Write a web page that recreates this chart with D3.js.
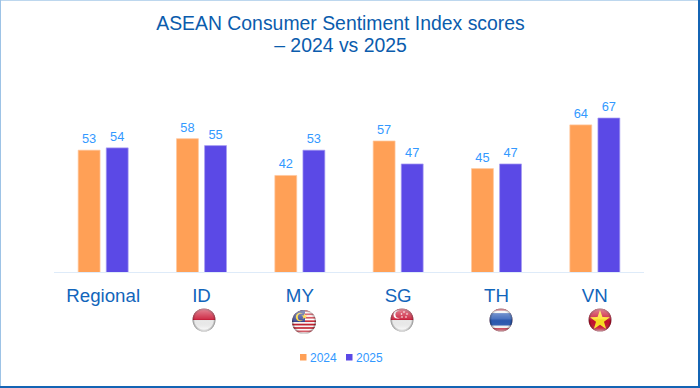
<!DOCTYPE html>
<html><head><meta charset="utf-8">
<script src="https://cdn.jsdelivr.net/npm/d3@7/dist/d3.min.js"></script>
<style>html,body{margin:0;padding:0;background:#fff}svg{display:block}text{font-family:"Liberation Sans",Arial,sans-serif}</style>
</head><body><svg id="c" width="700" height="388"></svg>
<script>
const categories = ["Regional","ID","MY","SG","TH","VN"];
const flags = ["","id","my","sg","th","vn"];
const years = ["2024","2025"];
const values2024 = [53,58,42,57,45,64];
const values2025 = [54,55,53,47,47,67];
const titleLines = ["ASEAN Consumer Sentiment Index scores","– 2024 vs 2025"];
const colors = ["#FFA056","#5B49E6"];
const barEdge = ["#FFC9A0","#A79EF2"];

const svg = d3.select("#c");
const W=700,H=388, base=272;
const defs = svg.append("defs");

// frame
svg.append("rect").attr("width",W).attr("height",H).attr("fill","#fff");
svg.append("rect").attr("x",0).attr("y",0).attr("width",W).attr("height",1).attr("fill","#BDD7EE");
svg.append("rect").attr("x",0).attr("y",0).attr("width",1).attr("height",H).attr("fill","#9DC3E6");
svg.append("rect").attr("x",698).attr("y",0).attr("width",2).attr("height",H).attr("fill","#1464B4");
svg.append("rect").attr("x",0).attr("y",386).attr("width",W).attr("height",2).attr("fill","#1464B4");

// title
svg.append("g").selectAll("text").data(titleLines).join("text")
  .attr("x",340.5).attr("y",(d,i)=>30+i*22).attr("text-anchor","middle")
  .attr("font-size",19.4).attr("fill","#0B5CAD").text(d=>d);

const x = d3.scaleBand().domain(categories).range([54,644]);
const inner = d3.scaleBand().domain(years).range([x.bandwidth()/2-25,x.bandwidth()/2+25]).paddingInner(0.22);
const y = d3.scaleLinear().domain([0,67]).range([base,118]);

// axis
svg.append("line").attr("x1",54).attr("x2",644).attr("y1",base+.5).attr("y2",base+.5).attr("stroke","#DEEBF9");

const series = [values2024,values2025];
series.forEach((vals,s)=>{
  const g = svg.append("g").attr("class","series");
  g.selectAll("rect").data(vals).join("rect")
    .attr("x",(d,i)=>x(categories[i])+inner(years[s]))
    .attr("y",d=>y(d))
    .attr("width",inner.bandwidth())
    .attr("height",d=>base-y(d))
    .attr("fill",colors[s]);
  g.selectAll("path").data(vals).join("path")
    .attr("d",(d,i)=>{const a=x(categories[i])+inner(years[s]),b=a+inner.bandwidth();
      return d3.line()([[a,base],[a,y(d)],[b,y(d)],[b,base]]);})
    .attr("fill","none").attr("stroke",barEdge[s]).attr("stroke-width",.7);
  g.selectAll("text").data(vals).join("text")
    .attr("x",(d,i)=>x(categories[i])+inner(years[s])+inner.bandwidth()/2)
    .attr("y",d=>y(d)-7).attr("text-anchor","middle")
    .attr("font-size",12.8).attr("fill","#3399FF").text(d=>d);
});

// category labels
svg.append("g").selectAll("text").data(categories).join("text")
  .attr("x",d=>x(d)+x.bandwidth()/2).attr("y",302).attr("text-anchor","middle")
  .attr("font-size",18.7).attr("fill","#1265BB").text(d=>d);

// flags
const gloss = defs.append("linearGradient").attr("id","gloss").attr("x1",0).attr("x2",0).attr("y1",0).attr("y2",1);
[[0,"#fff",.5],[.45,"#fff",.14],[.55,"#000",.03],[.85,"#fff",.12],[1,"#fff",.6]].forEach(s=>
  gloss.append("stop").attr("offset",s[0]).attr("stop-color",s[1]).attr("stop-opacity",s[2]));
const rim = defs.append("radialGradient").attr("id","rim");
[[0,"#000",0],[.8,"#000",0],[1,"#000",.42]].forEach(s=>
  rim.append("stop").attr("offset",s[0]).attr("stop-color",s[1]).attr("stop-opacity",s[2]));

const star=(g,cx,cy,r,fill)=>{
  const pts=d3.range(10).map(i=>{const R=i%2?r*.4:r,a=-Math.PI/2+i*Math.PI/5;return [cx+R*Math.cos(a),cy+R*Math.sin(a)];});
  g.append("polygon").attr("points",pts.join(" ")).attr("fill",fill);
};
const flagDy = {my:2};
flags.forEach((f,i)=>{
  if(!f) return;
  const r = f==="my"?12:11.5;
  const cx = {id:204,my:304,sg:402,th:501,vn:600}[f], cy = 320+(flagDy[f]||0);
  const cid="clip-"+f;
  defs.append("clipPath").attr("id",cid).append("circle").attr("cx",cx).attr("cy",cy).attr("r",r);
  const g = svg.append("g").attr("class","flag");
  const c = g.append("g").attr("clip-path",`url(#${cid})`);
  const band=(t,h,col)=>c.append("rect").attr("x",cx-r).attr("y",cy-r+t*2*r).attr("width",2*r).attr("height",h*2*r).attr("fill",col);
  if(f==="id"||f==="sg"){
    band(0,.5,"#C8102E"); band(.5,.5,"#F1F1F1");
    if(f==="sg"){
      c.append("circle").attr("cx",cx-4.5).attr("cy",cy-5.5).attr("r",4).attr("fill","#fff");
      c.append("circle").attr("cx",cx-3).attr("cy",cy-5.5).attr("r",3.6).attr("fill","#C8102E");
      [[1,-8],[4,-6],[3,-3],[-1,-3],[-1.5,-6]].forEach(p=>c.append("circle").attr("cx",cx+p[0]+1).attr("cy",cy+p[1]).attr("r",.8).attr("fill","#fff"));
    }
  } else if(f==="my"){
    band(0,1,"#fff");
    d3.range(7).forEach(k=>band(k/7,.5/7,"#C8202F"));
    c.append("rect").attr("x",cx-r).attr("y",cy-r).attr("width",r+1).attr("height",r).attr("fill","#2A3A8C");
    c.append("circle").attr("cx",cx-4).attr("cy",cy-5).attr("r",4.2).attr("fill","#FFD21F");
    c.append("circle").attr("cx",cx-2.6).attr("cy",cy-5).attr("r",3.6).attr("fill","#2A3A8C");
    star(c,cx+.5,cy-5.5,3.2,"#FFD21F");
  } else if(f==="th"){
    band(0,1,"#C01F36"); band(.09,.76,"#F3F3F3"); band(.2,.54,"#2D5BB5");
  } else if(f==="vn"){
    band(0,1,"#C8102E"); star(c,cx,cy+.5,10.5,"#FFE21F");
  }
  g.append("circle").attr("cx",cx).attr("cy",cy).attr("r",r).attr("fill","url(#rim)");
  g.append("ellipse").attr("cx",cx).attr("cy",cy).attr("rx",r).attr("ry",r).attr("fill","url(#gloss)");
});

// legend
const legX=[300,346];
const lg = svg.append("g").selectAll("g").data(years).join("g");
lg.append("rect").attr("x",(d,i)=>legX[i]).attr("y",354).attr("width",6.5).attr("height",6.5).attr("fill",(d,i)=>colors[i]);
lg.append("text").attr("x",(d,i)=>legX[i]+10).attr("y",361.5).attr("font-size",12).attr("fill","#3399FF").text(d=>d);
</script></body></html>
